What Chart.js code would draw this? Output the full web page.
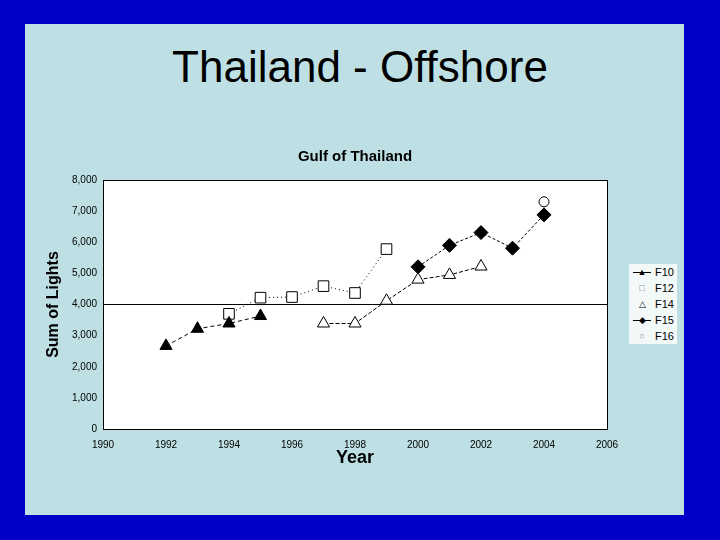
<!DOCTYPE html>
<html>
<head>
<meta charset="utf-8">
<script src="https://cdn.jsdelivr.net/npm/chart.js@4.4.1/dist/chart.umd.min.js"></script>
<style>
  body { margin: 0; width: 720px; height: 540px; background: #0000c8; position: relative; overflow: hidden; font-family: "Liberation Sans", Arial, sans-serif; }
  #panel { position: absolute; left: 25px; top: 24px; width: 659px; height: 491px; background: #bee0e4; }
  #slideTitle { position: absolute; left: 0; top: 45px; width: 720px; text-align: center; font-size: 44px; line-height: 44px; color: #000; }
  #wrap { position: absolute; left: 25px; top: 100px; width: 659px; height: 415px; }
  #legend { position: absolute; left: 629px; top: 264px; width: 48px; height: 80px; background: #f3f8f9; }
  .item { height: 16px; line-height: 16px; font-size: 11px; display: flex; align-items: center; color: #000; }
  .mark { width: 26px; position: relative; text-align: center; font-size: 9px; }
  .mark.line::before { content: ''; position: absolute; left: 4px; right: 4px; top: 50%; border-top: 1px solid #000; }
  .mark span { position: relative; }
</style>
</head>
<body>
<div id="panel"></div>
<div id="slideTitle">Thailand - Offshore</div>
<div id="wrap"><canvas id="myChart" width="659" height="415"></canvas></div>
<div id="legend"></div>
<script>
//Datos (Sum of Lights por año)
var f10Years = [1992, 1993, 1994, 1995];
var f10Values = [2670, 3220, 3390, 3630];
var f12Years = [1994, 1995, 1996, 1997, 1998, 1999];
var f12Values = [3700, 4220, 4240, 4590, 4370, 5780];
var f14Years = [1997, 1998, 1999, 2000, 2001, 2002];
var f14Values = [3390, 3390, 4120, 4800, 4950, 5220];
var f15Years = [2000, 2001, 2002, 2003, 2004];
var f15Values = [5210, 5900, 6310, 5810, 6880];
var f16Years = [2004];
var f16Values = [7300];

//Ticks de los ejes
var yearTicks = [1990, 1992, 1994, 1996, 1998, 2000, 2002, 2004, 2006];
var lightTicks = [0, 1000, 2000, 3000, 4000, 5000, 6000, 7000, 8000];

var fuente = '"Liberation Sans", Arial, sans-serif';

function puntos(xs, ys) {
      return xs.map(function (x, i) { return { x: x, y: ys[i] }; });
}

//Fondo blanco del area del grafico
var fondoBlanco = {
      id: 'fondoBlanco',
      beforeDraw: function (chart) {
            var a = chart.chartArea;
            chart.ctx.save();
            chart.ctx.fillStyle = '#ffffff';
            chart.ctx.fillRect(a.left, a.top, a.right - a.left, a.bottom - a.top);
            chart.ctx.restore();
      }
};

var ctx = document.getElementById('myChart').getContext('2d');
var myChart = new Chart(ctx, {
      type: 'scatter',
      data: {
            datasets: [{
                  label: 'F10',
                  data: puntos(f10Years, f10Values),
                  showLine: true,
                  borderColor: '#000',
                  backgroundColor: '#000',
                  borderWidth: 1,
                  borderDash: [4, 3],
                  pointStyle: 'triangle',
                  pointRadius: 7,
                  pointBorderWidth: 1
            },
            {
                  label: 'F12',
                  data: puntos(f12Years, f12Values),
                  showLine: true,
                  borderColor: '#000',
                  backgroundColor: '#fff',
                  borderWidth: 1,
                  borderDash: [1, 3],
                  pointStyle: 'rect',
                  pointRadius: 7.5,
                  pointBorderWidth: 1
            },
            {
                  label: 'F14',
                  data: puntos(f14Years, f14Values),
                  showLine: true,
                  borderColor: '#000',
                  backgroundColor: '#fff',
                  borderWidth: 1,
                  borderDash: [4, 2],
                  pointStyle: 'triangle',
                  pointRadius: 7,
                  pointBorderWidth: 1
            },
            {
                  label: 'F15',
                  data: puntos(f15Years, f15Values),
                  showLine: true,
                  borderColor: '#000',
                  backgroundColor: '#000',
                  borderWidth: 1,
                  borderDash: [3, 2],
                  pointStyle: 'rectRot',
                  pointRadius: 7,
                  pointBorderWidth: 1
            },
            {
                  label: 'F16',
                  data: puntos(f16Years, f16Values),
                  showLine: true,
                  borderColor: '#000',
                  backgroundColor: '#fff',
                  borderWidth: 1,
                  pointStyle: 'circle',
                  pointRadius: 5,
                  pointBorderWidth: 1
            }]
      },
      options: {
            responsive: false,
            animation: false,
            layout: { padding: { left: 0, right: 77, top: 0, bottom: 0 } },
            plugins: {
                  legend: { display: false },
                  tooltip: { enabled: false },
                  title: {
                        display: true,
                        text: 'Gulf of Thailand',
                        fullSize: false,
                        color: '#000',
                        font: { family: fuente, size: 15, weight: 'bold' },
                        padding: { top: 48, bottom: 14 }
                  }
            },
            scales: {
                  x: {
                        type: 'linear',
                        min: 1990,
                        max: 2006,
                        afterBuildTicks: function (s) { s.ticks = yearTicks.map(function (v) { return { value: v }; }); },
                        afterFit: function (s) { s.height = 86; },
                        ticks: {
                              color: '#000',
                              font: { family: fuente, size: 10 },
                              padding: 10,
                              maxRotation: 0,
                              callback: function (v) { return String(v); }
                        },
                        grid: {
                              drawTicks: false,
                              color: function (c) { return c.tick && c.tick.value === 2006 ? '#000' : 'rgba(0,0,0,0)'; }
                        },
                        border: { display: true, color: '#000', width: 1 },
                        title: {
                              display: true,
                              text: 'Year',
                              color: '#000',
                              font: { family: fuente, size: 18, weight: 'bold' },
                              padding: { top: 0, bottom: 46 }
                        }
                  },
                  y: {
                        min: 0,
                        max: 8000,
                        afterBuildTicks: function (s) { s.ticks = lightTicks.map(function (v) { return { value: v }; }); },
                        afterFit: function (s) { s.width = 78; },
                        ticks: {
                              color: '#000',
                              font: { family: fuente, size: 10 },
                              padding: 6,
                              callback: function (v) { return v.toLocaleString('en-US'); }
                        },
                        grid: {
                              drawTicks: false,
                              color: function (c) { return c.tick && (c.tick.value === 4000 || c.tick.value === 8000) ? '#000' : 'rgba(0,0,0,0)'; }
                        },
                        border: { display: true, color: '#000', width: 1 },
                        title: {
                              display: true,
                              text: 'Sum of Lights',
                              color: '#000',
                              font: { family: fuente, size: 16, weight: 'bold' },
                              padding: { top: 19, bottom: 0 }
                        }
                  }
            }
      },
      plugins: [fondoBlanco]
});

//Leyenda en HTML a partir de los datasets
var marcas = { F10: ['▲', true, '#000'], F12: ['□', false, '#888'], F14: ['△', false, '#000'], F15: ['◆', true, '#000'], F16: ['○', false, '#888'] };
var legend = document.getElementById('legend');
myChart.data.datasets.forEach(function (ds) {
      var m = marcas[ds.label];
      var item = document.createElement('div');
      item.className = 'item';
      item.innerHTML = '<div class="mark' + (m[1] ? ' line' : '') + '"><span style="color:' + m[2] + '">' + m[0] + '</span></div><div>' + ds.label + '</div>';
      legend.appendChild(item);
});
</script>
</body>
</html>
